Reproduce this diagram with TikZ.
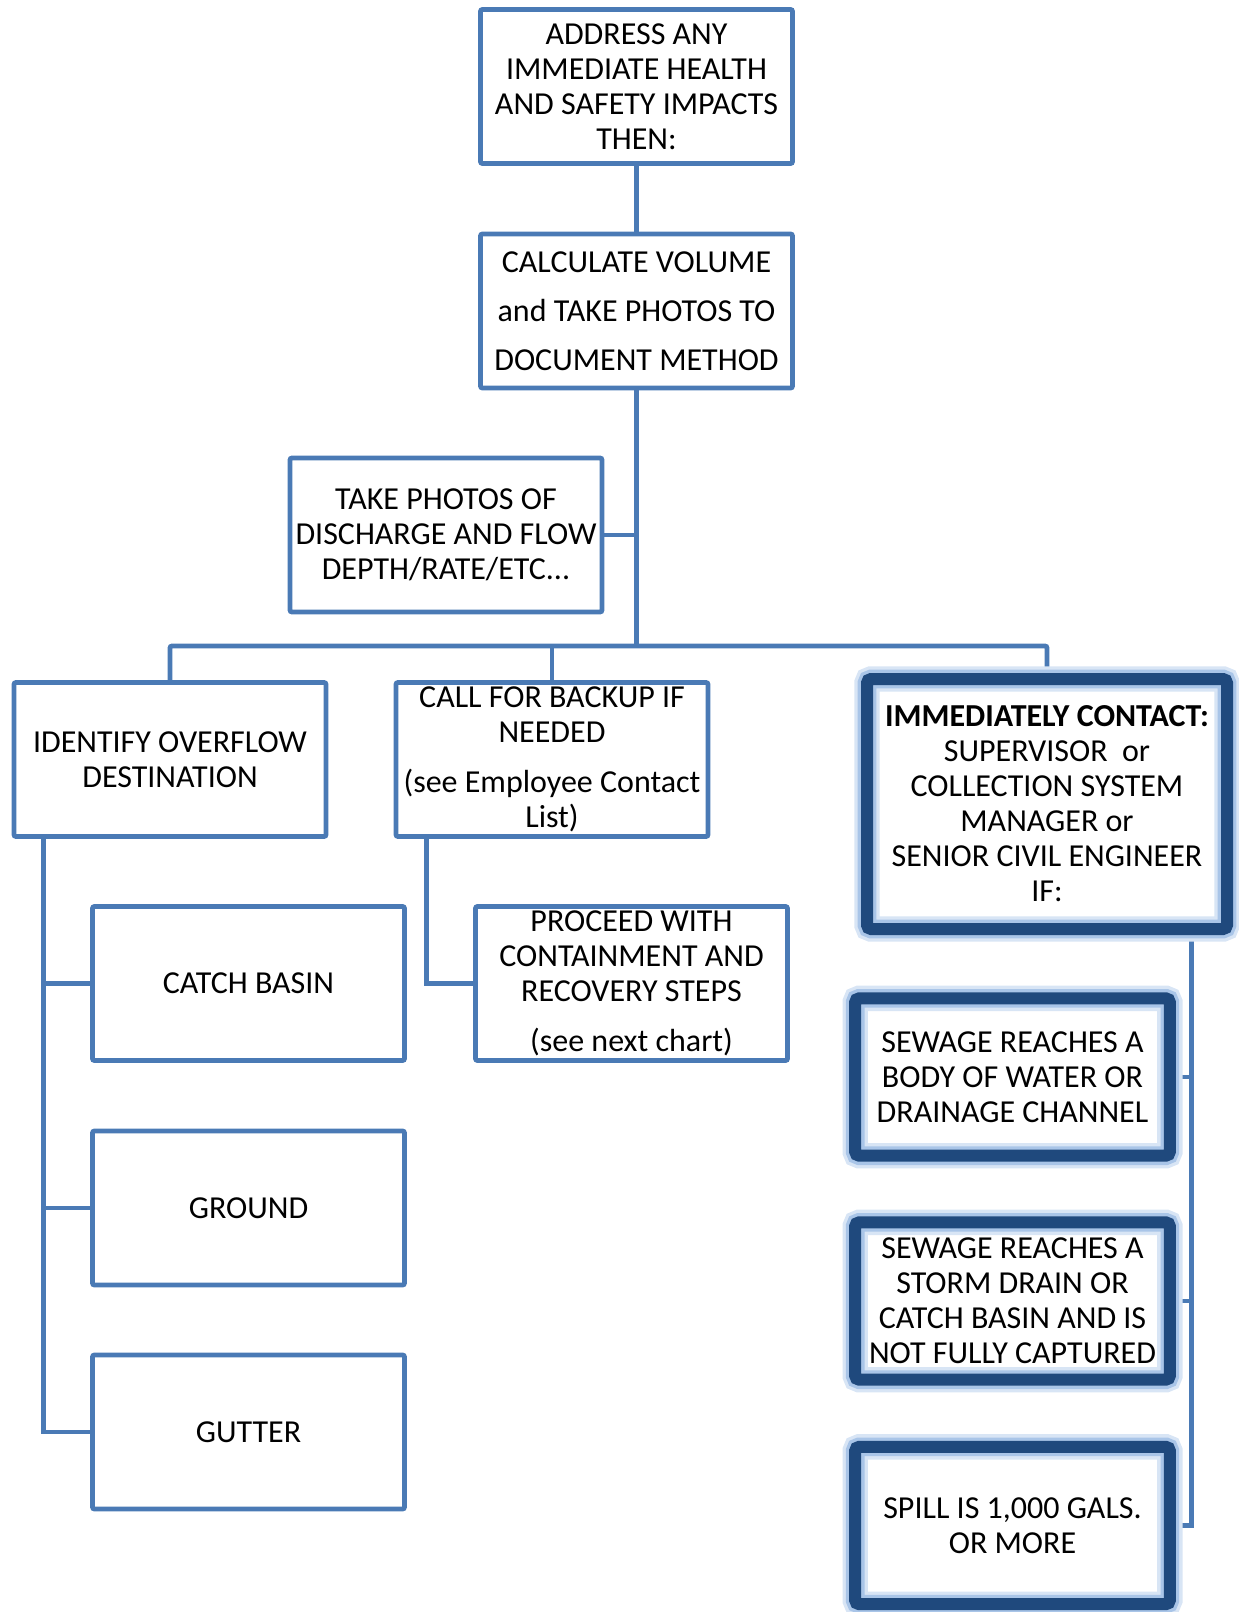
\documentclass[tikz,border=0pt]{standalone}
\usepackage{fontspec}
\setmainfont{Carlito}
\usepackage{tikz}
\usetikzlibrary{positioning, backgrounds, calc}

\definecolor{linkblue}{HTML}{4A7AB5}
\definecolor{darkblue}{HTML}{1F497D}
\definecolor{glowblue}{HTML}{A9C5E8}

\begin{document}
\begin{tikzpicture}[x=0.75pt, y=-0.75pt,
    box/.style={draw=linkblue, line width=3.6pt, fill=white, rounded corners=1.5pt,
        minimum width=234pt, minimum height=115.5pt, align=center, inner sep=0pt,
        font=\fontsize{24}{26.25}\selectfont},
    alertbox/.style={box, draw=darkblue, line width=9pt, fill=none, rounded corners=3pt,
        preaction={fill=white},
        preaction={draw=glowblue!45, line width=19pt},
        preaction={draw=glowblue, line width=14pt},
        minimum width=236pt, minimum height=118pt},
    link/.style={draw=linkblue, line width=3.6pt}]

    \useasboundingbox (0, 0) rectangle (1238, 1612);

    % top of the chart
    \node[box] at (636.5, 86.5) (address) {ADDRESS ANY\\IMMEDIATE HEALTH\\AND SAFETY IMPACTS\\THEN:};
    \node[box, font=\fontsize{24}{36.7}\selectfont] at (636.5, 311) (volume) {CALCULATE VOLUME\\and TAKE PHOTOS TO\\DOCUMENT METHOD};
    \node[box] at (446, 535) (photos) {TAKE PHOTOS OF\\DISCHARGE AND FLOW\\DEPTH/RATE/ETC...};

    % second row
    \node[box] at (170, 759.5) (identify) {IDENTIFY OVERFLOW\\DESTINATION};
    \node[box] at (552, 759.5) (backup) {CALL FOR BACKUP IF\\NEEDED\\[10.8pt](see Employee Contact\\List)};
    \node[alertbox, minimum width=270pt, minimum height=187.5pt] at (1047, 804) (contact)
        {\textbf{IMMEDIATELY CONTACT:}\\SUPERVISOR~ or\\COLLECTION SYSTEM\\MANAGER or\\SENIOR CIVIL ENGINEER\\IF:};

    % destinations
    \node[box] at (248.5, 983.5) (basin) {CATCH BASIN};
    \node[box] at (248.5, 1208) (ground) {GROUND};
    \node[box] at (248.5, 1432) (gutter) {GUTTER};
    \node[box] at (631.5, 983.5) (proceed) {PROCEED WITH\\CONTAINMENT AND\\RECOVERY STEPS\\[10.8pt](see next chart)};

    % conditions
    \node[alertbox] at (1012.5, 1077) (water) {SEWAGE REACHES A\\BODY OF WATER OR\\DRAINAGE CHANNEL};
    \node[alertbox] at (1012.5, 1301) (drain) {SEWAGE REACHES A\\STORM DRAIN OR\\CATCH BASIN AND IS\\NOT FULLY CAPTURED};
    \node[alertbox] at (1012.5, 1525.5) (spill) {SPILL IS 1,000 GALS.\\OR MORE};

    \coordinate (bus) at (636.5, 646);
    \coordinate (lspine) at ([xshift=24pt]identify.south west);
    \coordinate (mspine) at ([xshift=24.75pt]backup.south west);
    \coordinate (rspine) at ([xshift=-31pt]contact.south east);

    \begin{scope}[on background layer]
        \draw[link] (address) -- (volume);
        \draw[link] (volume) -- (bus);
        \draw[link] (photos.east) -- (volume.south |- photos.east);
        \draw[link, rounded corners=1.5pt] (identify.north) |- (bus) -| (contact.north);
        \draw[link] (backup.north) -- (backup.north |- bus);

        \draw[link] (lspine) |- (gutter.west);
        \draw[link] (lspine |- basin.west) -- (basin.west);
        \draw[link] (lspine |- ground.west) -- (ground.west);
        \draw[link] (mspine) |- (proceed.west);

        \draw[link] (rspine) |- (spill.east);
        \draw[link] (rspine |- water.east) -- (water.east);
        \draw[link] (rspine |- drain.east) -- (drain.east);
    \end{scope}
\end{tikzpicture}
\end{document}
